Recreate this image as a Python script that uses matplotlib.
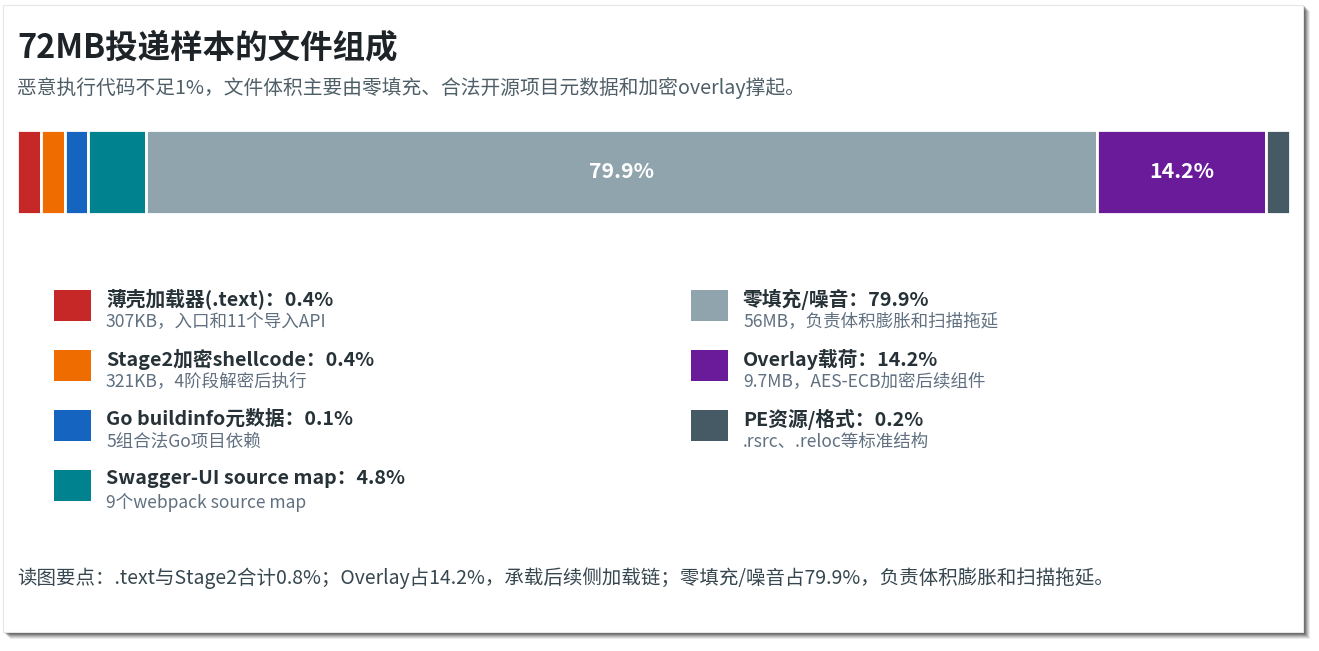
import matplotlib
matplotlib.use("Agg")
import matplotlib.pyplot as plt
from matplotlib.patches import Rectangle
import numpy as np

plt.rcParams['font.family'] = ['Noto Sans CJK SC', 'DejaVu Sans']

# ---- data ----
categories = ["薄壳加载器(.text)", "Stage2加密shellcode", "Go buildinfo元数据",
              "Swagger-UI source map", "零填充/噪音", "Overlay载荷", "PE资源/格式"]
percents = [0.4, 0.4, 0.1, 4.8, 79.9, 14.2, 0.2]
details = ["307KB，入口和11个导入API", "321KB，4阶段解密后执行", "5组合法Go项目依赖",
           "9个webpack source map", "56MB，负责体积膨胀和扫描拖延",
           "9.7MB，AES-ECB加密后续组件", ".rsrc、.reloc等标准结构"]
colors = ["#C62828", "#EF6C00", "#1565C0", "#00838F", "#90A4AE", "#6A1B9A", "#455A64"]
title = "72MB投递样本的文件组成"
subtitle = "恶意执行代码不足1%，文件体积主要由零填充、合法开源项目元数据和加密overlay撑起。"
footer = "读图要点：.text与Stage2合计0.8%；Overlay占14.2%，承载后续侧加载链；零填充/噪音占79.9%，负责体积膨胀和扫描拖延。"

MIN_VISIBLE = 2.0    # minimum display width so tiny segments remain visible
LABEL_MIN = 10.0     # only label segments at least this large

W, H = 1319, 651
fig = plt.figure(figsize=(W / 100, H / 100), dpi=100)
fig.patch.set_facecolor("white")

def fx(px):
    return px / W

def fy(py):
    return 1 - py / H

# card shadow + card
for i, a in enumerate([0.08, 0.10, 0.12, 0.15, 0.18, 0.2]):
    off = 6 - i
    fig.patches.append(Rectangle((fx(3 + off + 1), fy(633 + off)), fx(1300), 628 / H,
                                 transform=fig.transFigure, facecolor="black",
                                 alpha=a, edgecolor="none", zorder=0))
fig.patches.append(Rectangle((fx(3), fy(632)), fx(1300), 627 / H,
                             transform=fig.transFigure, facecolor="white",
                             edgecolor="#e6e6e6", linewidth=0.8, zorder=1))

# title / subtitle
fig.text(fx(17), fy(48), title, fontsize=23.4, fontweight="bold", color="#1d2327",
         va="center", ha="left", zorder=5)
fig.text(fx(17), fy(88), subtitle, fontsize=14.2, color="#4f5f68",
         va="center", ha="left", zorder=5)

# stacked bar
disp = np.maximum(np.array(percents), MIN_VISIBLE)
lefts = np.concatenate([[0], np.cumsum(disp)[:-1]])
ax = fig.add_axes([fx(17), fy(214), 1273 / W, 84 / H], zorder=3)
ax.barh([0] * len(disp), disp, left=lefts, color=colors, edgecolor="white",
        linewidth=2, height=1.0)
for l, d, p in zip(lefts, disp, percents):
    if p >= LABEL_MIN:
        ax.text(l + d / 2, 0, f"{p:.1f}%", ha="center", va="center", color="white",
                fontsize=15.3, fontweight="bold")
ax.set_xlim(0, disp.sum())
ax.set_ylim(-0.5, 0.5)
ax.axis("off")

# legend
col_x = [54, 691]
row_y0 = 290
row_dy = 60
for i, (cat, p, det, c) in enumerate(zip(categories, percents, details, colors)):
    col = 0 if i < 4 else 1
    row = i if i < 4 else i - 4
    x0 = col_x[col]
    y0 = row_y0 + row * row_dy
    fig.patches.append(Rectangle((fx(x0), fy(y0 + 31)), 37 / W, 31 / H,
                                 transform=fig.transFigure, facecolor=c,
                                 edgecolor="none", zorder=4))
    fig.text(fx(x0 + 52), fy(y0 + 9), f"{cat}：{p:.1f}%", fontsize=14.2,
             fontweight="bold", color="#263238", va="center", ha="left", zorder=5)
    fig.text(fx(x0 + 52), fy(y0 + 32), det, fontsize=12.6, color="#607080",
             va="center", ha="left", zorder=5)

fig.text(fx(17), fy(578), footer, fontsize=14.0, color="#37474F",
         va="center", ha="left", zorder=5)

fig.savefig("out.png", dpi=100, facecolor="white")
